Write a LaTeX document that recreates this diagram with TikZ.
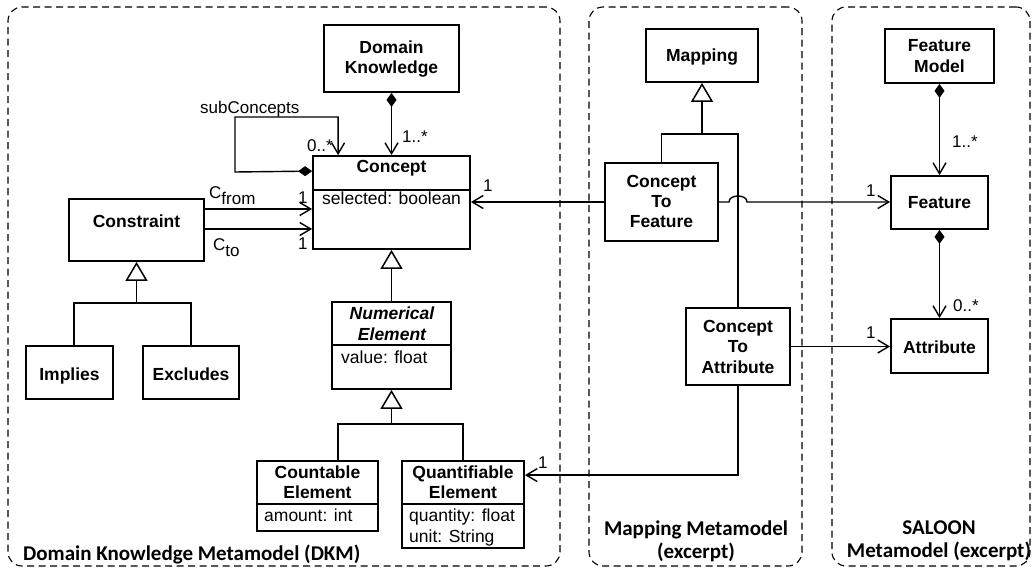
\documentclass[tikz,border=0pt]{standalone}
\usepackage{fontspec}
\setmainfont{Liberation Sans}
\newfontfamily\lblfont{Carlito}
\usetikzlibrary{arrows.meta,calc}
\tikzset{
  cls/.style={draw, line width=1.8pt, inner sep=0pt, fill=white},
  cname/.style={font=\fontsize{17.5}{20}\selectfont\bfseries, align=center, inner sep=0pt, anchor=base},
  attr/.style={font=\fontsize{17.5}{21}\selectfont, align=left, inner sep=0pt, anchor=base west},
  mult/.style={font=\fontsize{17}{20}\selectfont, inner sep=0pt, anchor=base west},
  pkg/.style={draw, dash pattern=on 7pt off 4.5pt, rounded corners=14pt, line width=1.1pt, inner sep=0pt},
  pkglbl/.style={font=\fontsize{21}{22.5}\selectfont\lblfont\bfseries, align=center, inner sep=0pt, anchor=base},
  sep/.style={line width=1.3pt},
  conn/.style={line width=1.4pt},
  assoc/.style={conn, -{Straight Barb[length=11pt,width=13pt,line width=1.4pt]}},
  comp/.style={conn, {Diamond[length=14pt,width=10pt]}-{Straight Barb[length=11pt,width=13pt,line width=1.4pt]}},
  gen/.style={conn, -{Triangle[open,length=19pt,width=22pt,line width=1.5pt,fill=white]}},
}
\begin{document}
\begin{tikzpicture}[x=1pt,y=-1pt]
\useasboundingbox (0,0) rectangle (1033,569);
% packages
\node[pkg, minimum width=552pt, minimum height=559pt] (dkm) at (284,286.5) {};
\node[pkg, minimum width=213pt, minimum height=559pt] (mmm) at (695.5,286.5) {};
\node[pkg, minimum width=198pt, minimum height=559pt] (smm) at (931,286.5) {};
\node[pkglbl, anchor=base west] (dkmL) at (23,560) {Domain Knowledge Metamodel (DKM)};
\node[pkglbl] (mmmL) at (696,558) {Mapping Metamodel\\(excerpt)};
\node[pkglbl] (smmL) at (939,557) {SALOON\\Metamodel (excerpt)};

% DKM classes
\node[cls, minimum width=135pt, minimum height=67pt] (dk) at (391.5,58.5) {};
\node[cname] (dkT) at (391.5,74) {Domain\\Knowledge};

\node[cls, minimum width=157pt, minimum height=93pt] (concept) at (391.5,202.5) {};
\draw[sep] (313,190) -- (470,190);
\node[cname] (conceptT) at (391.5,173) {Concept};
\node[attr] (conceptA) at (322,205) {selected: boolean};

\node[cls, minimum width=135pt, minimum height=62pt] (constraint) at (136.5,230) {};
\node[cname] (constraintT) at (136.5,228) {Constraint};

\node[cls, minimum width=87pt, minimum height=53pt] (implies) at (69.5,372.5) {};
\node[cname] (impliesT) at (69.5,380) {Implies};
\node[cls, minimum width=96pt, minimum height=53pt] (excludes) at (191,372.5) {};
\node[cname] (excludesT) at (191,380) {Excludes};

\node[cls, minimum width=119pt, minimum height=87pt] (num) at (391.5,345.5) {};
\draw[sep] (332,345) -- (451,345);
\node[cname, font=\fontsize{17.5}{21}\selectfont\bfseries\itshape] (numT) at (392,340) {Numerical\\Element};
\node[attr] (numA) at (341,363) {value: float};

\node[cls, minimum width=121pt, minimum height=70pt] (ce) at (317.5,496) {};
\draw[sep] (257,504) -- (378,504);
\node[cname, font=\fontsize{17.5}{19.5}\selectfont\bfseries] (ceT) at (317.5,498) {Countable\\Element};
\node[attr] (ceA) at (264,521) {amount: int};

\node[cls, minimum width=122pt, minimum height=87pt] (qe) at (463,504.5) {};
\draw[sep] (402,504) -- (524,504);
\node[cname, font=\fontsize{17.5}{19.5}\selectfont\bfseries] (qeT) at (463,498) {Quantifiable\\Element};
\node[attr] (qeA) at (409,542) {quantity: float\\unit: String};

% Mapping classes
\node[cls, minimum width=112pt, minimum height=53pt] (mapping) at (702,55.5) {};
\node[cname] (mappingT) at (702,62) {Mapping};
\node[cls, minimum width=113pt, minimum height=78pt] (c2f) at (661.5,202) {};
\node[cname] (c2fT) at (661.5,228) {Concept\\To\\Feature};
\node[cls, minimum width=104pt, minimum height=77pt] (c2a) at (738,346.5) {};
\node[cname, font=\fontsize{17.5}{20.5}\selectfont\bfseries] (c2aT) at (738,373) {Concept\\To\\Attribute};

% SALOON classes
\node[cls, minimum width=109pt, minimum height=54pt] (fm) at (939.5,56) {};
\node[cname, font=\fontsize{17.5}{21}\selectfont\bfseries] (fmT) at (939.5,73) {Feature\\Model};
\node[cls, minimum width=97pt, minimum height=53pt] (feature) at (939.5,202.5) {};
\node[cname] (featureT) at (939.5,209) {Feature};
\node[cls, minimum width=97pt, minimum height=54pt] (attribute) at (939.5,346) {};
\node[cname] (attributeT) at (939.5,353) {Attribute};

% generalizations
\coordinate (jC) at (136.5,303);
\coordinate (jI) at (74,303);
\coordinate (jE) at (191,303);
\draw[conn] (implies.north -| jI) -- (jI) -- (jE) -- (excludes.north);
\draw[gen] (jC) -- (constraint.south);

\draw[gen] (num.north) -- (concept.south);

\coordinate (jN) at (391.5,424);
\coordinate (jCE) at (338,424);
\coordinate (jQE) at (463,424);
\draw[conn] (ce.north -| jCE) -- (jCE) -- (jQE) -- (qe.north);
\draw[gen] (jN) -- (num.south);

\coordinate (jM) at (702,134);
\coordinate (jF) at (661.5,134);
\coordinate (jA) at (738,134);
\draw[conn] (c2f.north) -- (jF) -- (jA) -- (c2a.north);
\draw[gen] (jM) -- (mapping.south);

% compositions
\draw[comp] (dk.south) -- (concept.north);
\draw[comp] (fm.south) -- (feature.north);
\draw[comp] (feature.south) -- (attribute.north);
\coordinate (sc1) at ($(concept.north west)+(0,16)$);
\coordinate (sc2) at ($(concept.north west)+(26,0)$);
\draw[comp] (sc1) -- (235,172) -- (235,117) -- (sc2 |- 0,117) -- (sc2);

% associations
\coordinate (cf) at (204,209);
\coordinate (ct) at (204,229);
\draw[assoc] (cf) -- (cf -| concept.west);
\draw[assoc] (ct) -- (ct -| concept.west);
\draw[assoc] (c2f.west) -- (c2f.west -| concept.east);
\coordinate (hopL) at (729,202);
\coordinate (hopR) at (747,202);
\draw[assoc] (c2f.east) -- (hopL) .. controls (729,194) and (747,194) .. (hopR) -- (hopR -| feature.west);
\draw[assoc] (c2a.east) -- (c2a.east -| attribute.west);
\coordinate (qa) at ($(qe.north east)+(0,15)$);
\draw[assoc] (c2a.south) |- (qa);

% labels
\node[mult] (lsub) at (200,114) {subConcepts};
\node[mult] (lsubm) at (307,152) {0..*};
\node[mult] (ldkm) at (402,143) {1..*};
\node[mult] (lcf) at (209,199) {C\raisebox{-6pt}{from}};
\node[mult] (lcfm) at (298,204) {1};
\node[mult] (lct) at (213,251) {C\raisebox{-6pt}{to}};
\node[mult] (lctm) at (298,250) {1};
\node[mult] (lc2f) at (483,192) {1};
\node[mult] (lfeat) at (866,197) {1};
\node[mult] (lfmm) at (952,148) {1..*};
\node[mult] (lattm) at (953,311) {0..*};
\node[mult] (latt) at (866,338) {1};
\node[mult] (lqe) at (538,468) {1};
\end{tikzpicture}
\end{document}
